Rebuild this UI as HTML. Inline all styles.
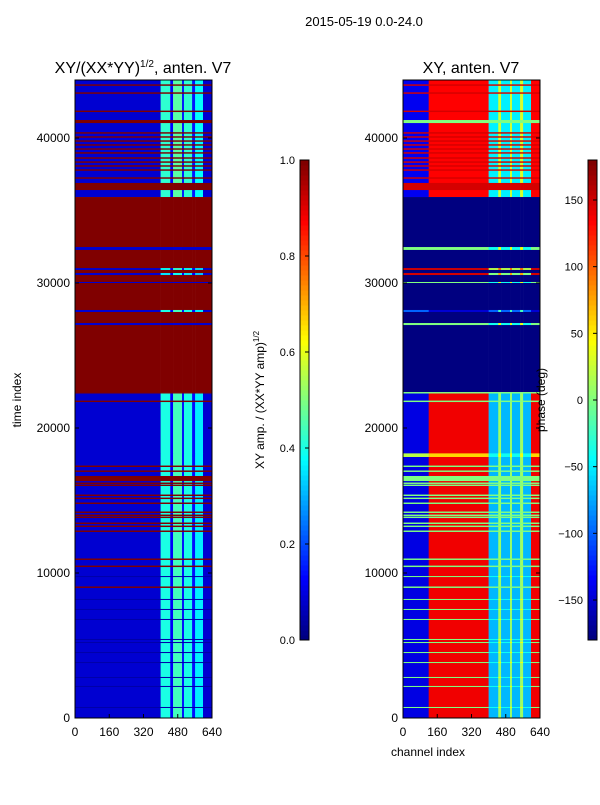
<!DOCTYPE html>
<html><head><meta charset="utf-8"><style>
body{margin:0;background:#fff;}
svg text{font-family:"Liberation Sans",sans-serif;fill:#000;}
</style></head><body>
<svg id="fig" width="600" height="800" xmlns="http://www.w3.org/2000/svg">
<text x="364" y="26" font-size="13" text-anchor="middle">2015-05-19 0.0-24.0</text>
<text x="143" y="73" font-size="16" text-anchor="middle">XY/(XX*YY)<tspan font-size="10" dy="-6">1/2</tspan><tspan dy="6">, anten. V7</tspan></text>
<text x="471" y="73" font-size="16" text-anchor="middle">XY, anten. V7</text>
<text transform="translate(21,400) rotate(-90)" font-size="12" text-anchor="middle">time index</text>
<text x="428" y="756" font-size="12" text-anchor="middle">channel index</text>
<text transform="translate(264,400) rotate(-90)" font-size="12" text-anchor="middle">XY amp. / (XX*YY amp)<tspan font-size="8" dy="-5">1/2</tspan></text>
<g id="left"></g>
<g id="right"></g>
<g id="cb1"></g>
<g id="cb2"></g>
<text transform="translate(545,400) rotate(-90)" font-size="12" text-anchor="middle">phase (deg)</text>
</svg>
<script>
// time bands (drawn in order; later bands overlay earlier)
const bandStart = [0,35930,22480,27100,28000,30000,30550,30900,32280,
 8970,10410,10900,12830,13170,13380,13790,13930,14140,14760,15100,15310,16000,16140,16340,16970,17310,21790,22380,
 43050,43600,41790,41030,40300,40020,39740,39470,39190,38920,38570,38290,38020,37740,37190,36410,
 9720,8140,7450,6760,5380,5170,4480,3790,2760,2140,690,18000];
const bandEnd = [22480,44000,35930,27240,28140,30070,30690,31030,32480,
 9070,10510,11000,12930,13270,13480,13890,14030,14240,14860,15200,15410,16100,16240,16690,17070,17410,21890,22480,
 43150,43700,41890,41240,40400,40120,39840,39570,39290,39020,38670,38390,38120,37840,37290,36900,
 9790,8210,7520,6830,5450,5240,4550,3860,2830,2210,760,18250];
const ampBase = [0.08,0.08,1,0.08,0.08,0.08,0.08,0.08,0.08,
 1,1,1,1,1,1,1,1,1,1,1,1,1,1,1,1,1,1,1,
 1,1,1,1,1,1,1,1,1,1,1,1,1,1,1,1,
 0.04,0.04,0.04,0.04,0.04,0.04,0.04,0.04,0.04,0.04,0.04,0.08];
const ampRfi = [0.4,0.42,1,0.08,0.4,0.08,0.35,0.38,0.08,
 1,1,1,1,1,1,1,1,1,1,1,1,1,1,1,1,1,1,1,
 1,1,1,1,1,1,1,1,1,1,1,1,1,1,1,1,
 0.04,0.04,0.04,0.04,0.04,0.04,0.04,0.04,0.04,0.04,0.04,0.4];
const phaseLow = [-145,-140,-180,0,-100,0,150,150,0,
 0,0,0,0,0,0,0,0,0,0,0,0,0,0,0,0,0,0,0,
 150,150,150,0,150,150,150,150,150,150,150,150,150,150,150,150,
 0,0,0,0,0,0,0,0,0,0,0,20];
const phaseMid = [140,135,-180,0,-150,0,150,150,0,
 0,0,0,0,0,0,0,0,0,0,0,0,0,0,0,0,0,0,0,
 150,150,150,0,150,150,150,150,150,150,150,150,150,150,150,150,
 0,0,0,0,0,0,0,0,0,0,0,60];
const phaseRfi = [-30,-10,-180,0,-60,0,40,60,0,
 0,0,0,0,0,0,0,0,0,0,0,0,0,0,0,0,0,0,0,
 150,150,150,0,150,150,150,150,150,150,150,150,150,150,150,150,
 0,0,0,0,0,0,0,0,0,0,0,0];
// channel column edges and RFI modulation per column
const chanEdges = [0,120,400,445,458,500,509,547,561,598,640];
const rfiMod = [0,0,1,0.3,1.1,0.35,1,0.35,0.9,0];
const ampTicks = [0,0.2,0.4,0.6,0.8,1.0];
const phaseTicks = [-150,-100,-50,0,50,100,150];
const timeTicks = [0,10000,20000,30000,40000];
const chanTicks = [0,160,320,480,640];

function jet(v){v=Math.max(0,Math.min(1,v));
 const f=t=>Math.round(255*Math.max(0,Math.min(1,1.5-Math.abs(4*v-t))));
 return `rgb(${f(3)},${f(2)},${f(1)})`;}
const NS="http://www.w3.org/2000/svg";
function mk(tag,attrs,parent){const e=document.createElementNS(NS,tag);for(const k in attrs)e.setAttribute(k,attrs[k]);parent.appendChild(e);return e;}
const yT = t => 718 - t*0.0145;
function panel(gid,x0,isPhase){
 const g=document.getElementById(gid);
 const xC = c => x0 + c/640*137;
 for(let b=0;b<bandStart.length;b++){
  for(let c=0;c<chanEdges.length-1;c++){
   let v;
   if(!isPhase){
    const m=rfiMod[c];
    v = (m>0 && ampBase[b]<1) ? Math.max(ampBase[b], ampRfi[b]*m) : ampBase[b];
   } else {
    const p = c===0?phaseLow[b]:(rfiMod[c]>0?phaseRfi[b]+(c%2?40:-40)*(ampBase[b]<1&&phaseRfi[b]>-180?1:0):phaseMid[b]);
    v=(p+180)/360;
   }
   const y1=yT(bandEnd[b]), y2=yT(bandStart[b]);
   const r=mk('rect',{x:xC(chanEdges[c]),y:y1,width:xC(chanEdges[c+1])-xC(chanEdges[c])+0.3,height:Math.max(1,y2-y1),fill:jet(v)},g);
   
   
  }
 }
 const fr=mk('rect',{x:x0,y:80,width:137,height:638,fill:'none',stroke:'#000','stroke-width':1},g);
 
 
 for(const t of timeTicks){
  mk('line',{x1:x0,x2:x0+4,y1:yT(t),y2:yT(t),stroke:'#000'},g);
  mk('line',{x1:x0+137,x2:x0+133,y1:yT(t),y2:yT(t),stroke:'#000'},g);
  const tx=mk('text',{x:x0-5,y:yT(t)+4,'font-size':12,'text-anchor':'end'},g);tx.textContent=t;
  
  
 }
 for(const c of chanTicks){
  mk('line',{x1:xC(c),x2:xC(c),y1:718,y2:714,stroke:'#000'},g);
  const tx=mk('text',{x:xC(c),y:736,'font-size':12,'text-anchor':'middle'},g);tx.textContent=c;
  
  
 }
}
panel('left',75,false);
panel('right',403,true);
function colorbar(gid,x0,lo,hi,ticks,fmt){
 const g=document.getElementById(gid);
 for(let i=0;i<96;i++){const v=i/95;
  mk('rect',{x:x0,y:640-(i+1)*5,width:9,height:5.5,fill:jet(v)},g);}
 mk('rect',{x:x0,y:160,width:9,height:480,fill:'none',stroke:'#000'},g);
 for(const t of ticks){const y=640-(t-lo)/(hi-lo)*480;
  mk('line',{x1:x0+9,x2:x0+5,y1:y,y2:y,stroke:'#000'},g);
  const tx=mk('text',{x:x0-5,y:y+4,'font-size':11,'text-anchor':'end'},g);tx.textContent=fmt(t);
  
  }
}
colorbar('cb1',300,0,1,ampTicks,t=>t.toFixed(1));
colorbar('cb2',588,-180,180,phaseTicks,t=>t<0?'\u2212'+(-t):''+t);
</script>
</body></html>
